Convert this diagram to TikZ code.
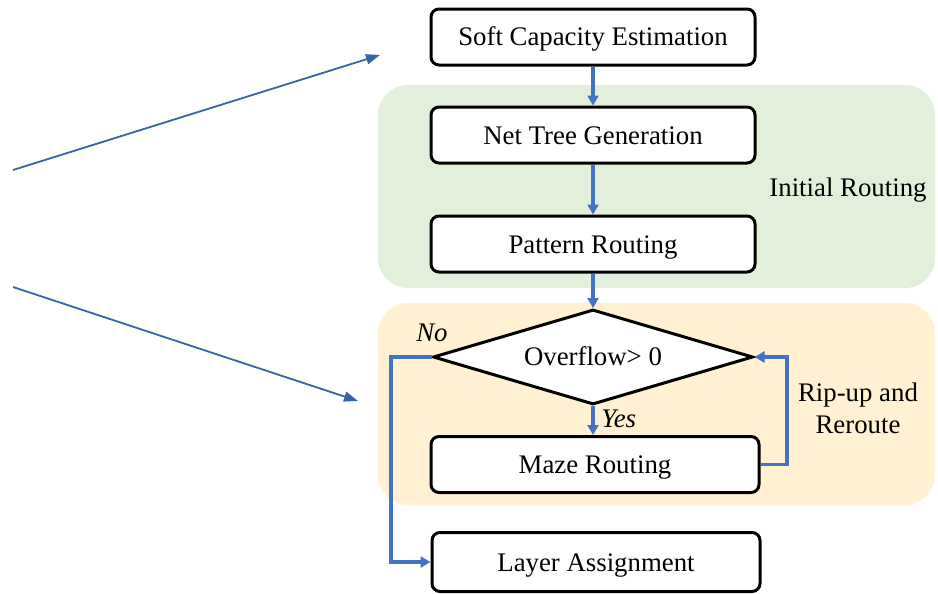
\documentclass[tikz,border=0pt]{standalone}
\usepackage{fontspec}
\setmainfont{Liberation Serif}
\usetikzlibrary{shapes.geometric,arrows.meta}
\definecolor{flowblue}{HTML}{4472C4}
\definecolor{pointblue}{HTML}{3A64A8}
\definecolor{initgreen}{HTML}{E2EFDA}
\definecolor{ripyellow}{HTML}{FFF1D2}
\tikzset{
  stepbox/.style={draw=black, line width=1.5pt, rounded corners=4pt, fill=white,
    minimum width=162pt, minimum height=28pt, inner sep=0pt,
    text height=12pt, text depth=3pt,
    font=\fontsize{13.4}{15}\selectfont},
  decision/.style={draw=black, line width=1.5pt, diamond, fill=white, inner sep=0pt,
    shape aspect=3.36, minimum width=160pt, minimum height=47.5pt,
    text height=11pt, text depth=3pt,
    font=\fontsize{13.4}{15}\selectfont},
  flow/.style={draw=flowblue, line width=1.7pt, -{Triangle[length=5pt,width=5.5pt]}},
  pointer/.style={draw=pointblue, line width=0.9pt, -{Triangle[length=7pt,width=5pt]}},
  region/.style={rounded corners=15pt},
  tag/.style={font=\fontsize{13.4}{15}\selectfont, align=center},
  branch/.style={font=\fontsize{13.4}{15}\selectfont\itshape}
}
\begin{document}
\begin{tikzpicture}[x=0.5pt,y=-0.5pt]
\useasboundingbox (0,0) rectangle (938,594);
\fill[white] (0,0) rectangle (938,594);

% stage backgrounds
\fill[initgreen, region] (378,85) rectangle (935,288);
\fill[ripyellow, region] (378,303) rectangle (935,505);

% process steps
\node[stepbox] (soft) at (593,37) {Soft Capacity Estimation};
\node[stepbox] (net) at (593,135) {Net Tree Generation};
\node[stepbox] (pat) at (593,244) {Pattern Routing};
\node[decision] (ovf) at (593,357) {Overflow> 0};
\node[stepbox, minimum width=164pt] (maze) at (595,464.5) {Maze Routing};
\node[stepbox, minimum width=164pt, minimum height=29.5pt] (layer) at (596,562) {Layer Assignment};

% stage labels
\node[tag] (init) at (848,190) {Initial Routing};
\node[tag] (rip) at (858,408) {Rip-up and\\[1pt]Reroute};

% helper points
\coordinate (noL) at (391,357);
\coordinate (ripR) at (787,357);
\coordinate (p1s) at (13,170);
\coordinate (p1e) at (380,55);
\coordinate (p2s) at (13,287);
\coordinate (p2e) at (358,401);

% main flow
\draw[flow] (soft.south) -- (net.north);
\draw[flow] (net.south) -- (pat.north);
\draw[flow] (pat.south) -- (ovf.north);
\draw[flow] (ovf.south) -- (ovf.south |- maze.north) node[branch, right, pos=0.45] {Yes};
\draw[flow] (ovf.west) -- (noL) |- (layer.west);
\node[branch] (no) at (432,333) {No};
\draw[flow] (maze.east) -| (ripR) -- (ovf.east);

% pointers from the left
\draw[pointer] (p1s) -- (p1e);
\draw[pointer] (p2s) -- (p2e);
\end{tikzpicture}
\end{document}
